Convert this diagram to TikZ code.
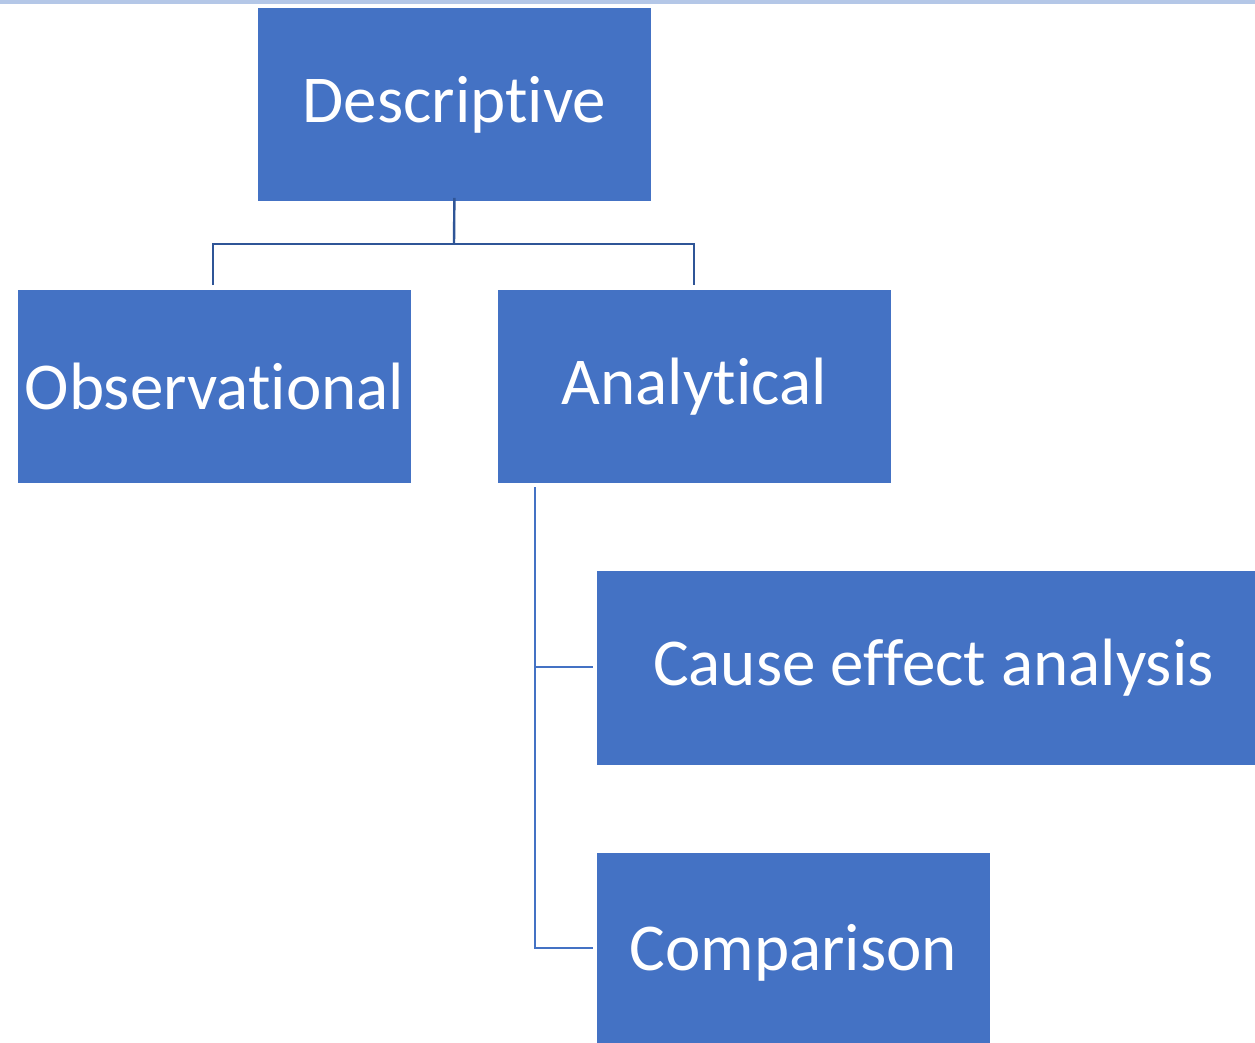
\documentclass[tikz,border=0pt]{standalone}
\usepackage{fontspec}
\setmainfont[Ligatures=NoCommon]{Carlito}
\definecolor{boxblue}{HTML}{4472C4}
\definecolor{linkdark}{HTML}{2F5597}
\definecolor{topband}{HTML}{B4C7E7}
\begin{document}
\begin{tikzpicture}[x=1pt,y=-1pt,
  boxstyle/.style={fill=boxblue,draw=white,line width=0.8pt,text=white,
    font=\fontsize{67}{78}\selectfont,inner sep=0pt,anchor=north west},
  linkstyle/.style={draw=linkdark,line width=2.4pt},
  sublink/.style={draw=boxblue,line width=2.4pt}]
\useasboundingbox (0,0) rectangle (1255,1042);
\fill[white] (0,0) rectangle (1255,1042);
\fill[topband] (0,0) rectangle (1255,4);
\node[boxstyle,minimum width=394pt,minimum height=194pt] (desc) at (257,7) {Descriptive};
\node[boxstyle,minimum width=394pt,minimum height=194pt] (obs) at (17,289) {Observational};
\node[boxstyle,minimum width=394pt,minimum height=194pt] (ana) at (497,289) {Analytical};
\node[boxstyle,minimum width=674pt,minimum height=195pt] (cause) at (596,570) {Cause effect analysis};
\node[boxstyle,minimum width=394pt,minimum height=200pt] (comp) at (596,852) {Comparison};
\coordinate (j) at (454,244);
\draw[linkstyle] ([yshift=4pt]desc.south) -- (j);
\draw[linkstyle] (213,285) |- (694,244) -- (694,285);
\coordinate (v) at (535,487);
\draw[sublink] (v) -- (535,948) -- ([xshift=-3pt]comp.west |- 0,948);
\draw[sublink] (535,667) -- ([xshift=-3pt]cause.west |- 0,667);
\end{tikzpicture}
\end{document}
